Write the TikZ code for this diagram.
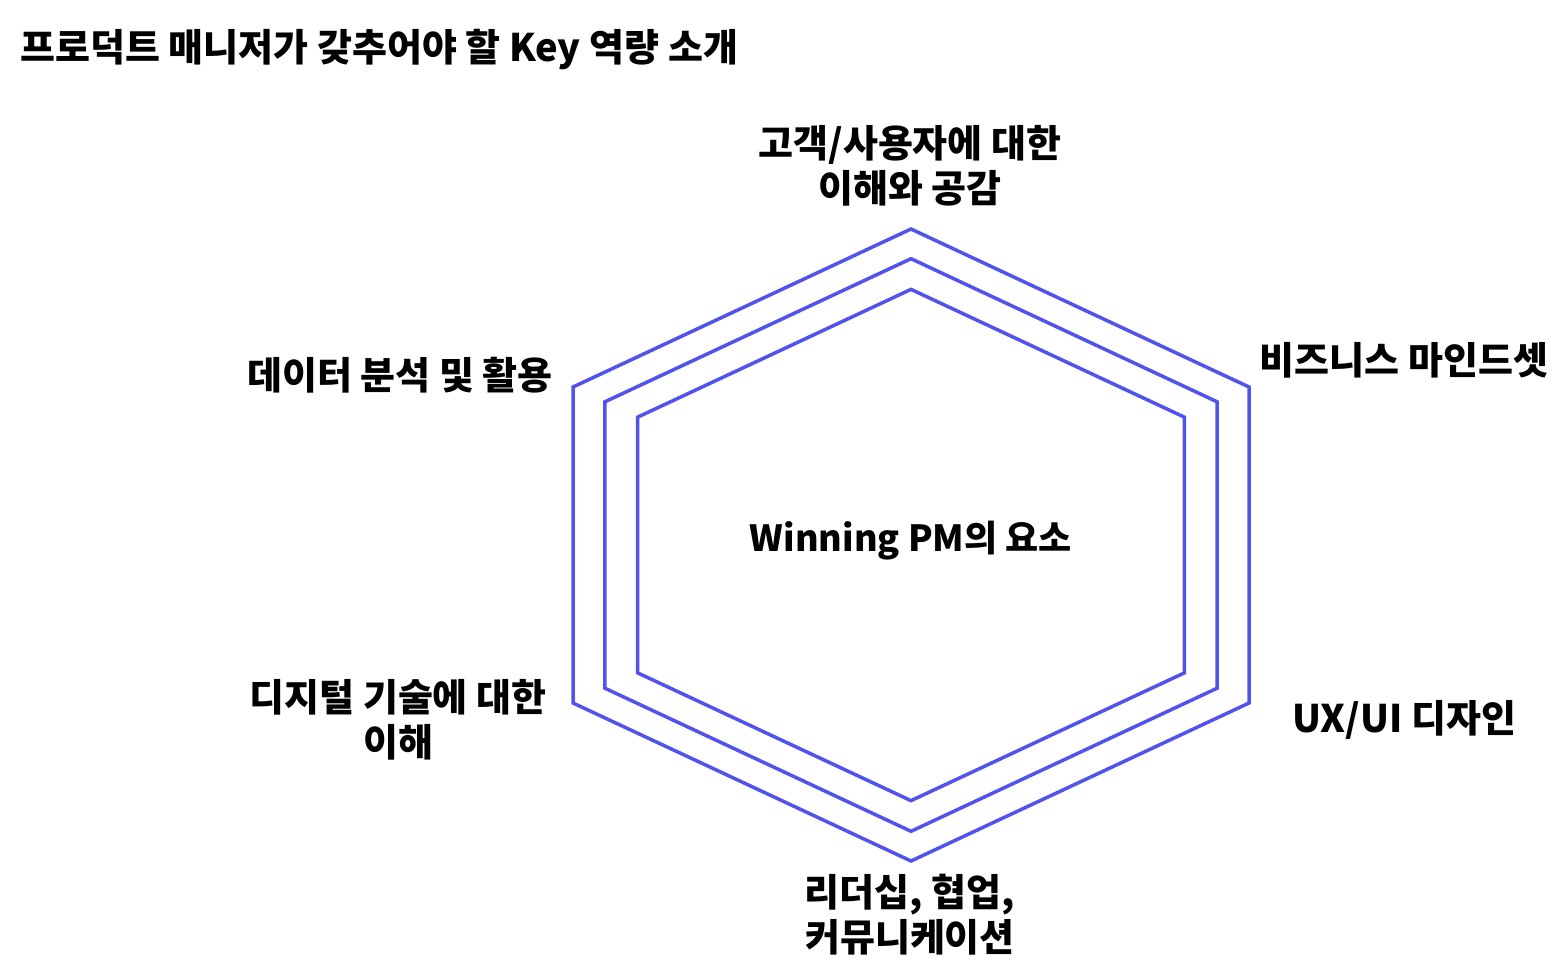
\documentclass[tikz,border=0pt]{standalone}
\usepackage{fontspec}
\setmainfont{Noto Sans CJK KR}
\definecolor{hexblue}{RGB}{82,82,238}

\begin{document}
\begin{tikzpicture}[
  x=1pt, y=-1pt,
  hexline/.style={
    draw=hexblue,
    line width=3.5pt,
    line join=miter
  },
  label/.style={
    font=\fontsize{38}{45}\selectfont\bfseries,
    align=center,
    inner sep=0pt
  }
]
  \useasboundingbox (0,0) rectangle (1560,970);

  \node[label, anchor=west] (title) at (20,50)
    {프로덕트 매니저가 갖추어야 할 Key 역량 소개};

  \foreach \s in {1,0.906,0.809}
    \draw[hexline, shift={(911,545)}, scale=\s]
      (0,-316) -- (338,-158) -- (338,158) -- (0,316)
      -- (-338,158) -- (-338,-158) -- cycle;

  \node[label, font=\fontsize{36}{45}\selectfont\bfseries] (center) at (911,541)
    {Winning PM의 요소};

  \node[label] (empathy) at (910,166) {고객/사용자에 대한\\이해와 공감};
  \node[label] (business) at (1404,360) {비즈니스 마인드셋};
  \node[label] (design) at (1404,720) {UX/UI 디자인};
  \node[label] (leader) at (910,915) {리더십, 협업,\\커뮤니케이션};
  \node[label] (digital) at (398,720) {디지털 기술에 대한\\이해};
  \node[label] (data) at (400,375) {데이터 분석 및 활용};
\end{tikzpicture}
\end{document}
